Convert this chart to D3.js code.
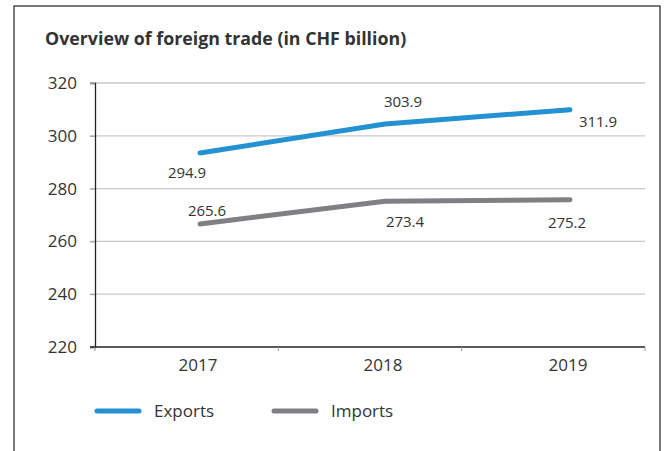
<!DOCTYPE html>
<html>
<head>
<meta charset="utf-8">
<script src="https://cdn.jsdelivr.net/npm/d3@7"></script>
<style>
  body { margin: 0; background: #fff; }
  text { font-family: "Open Sans", "Noto Sans", sans-serif; fill: #333; }
</style>
</head>
<body>
<script>
// data
const years = ["2017", "2018", "2019"];
const exportsVals = [293.5, 304.5, 309.9];
const importsVals = [266.6, 275.2, 275.8];
const exportsLabels = ["294.9", "303.9", "311.9"];
const importsLabels = ["265.6", "273.4", "275.2"];
const yTicks = [220, 240, 260, 280, 300, 320];

let svg = null;
let x, band, y = null;

setupSvg();
setupScales();
appendGrid();
appendAxes();
appendLines();
appendLegend();

function setupSvg() {
    svg = d3.select("body").append("svg")
        .attr("width", 665)
        .attr("height", 451);

    // outer frame
    svg.append("rect")
        .attr("x", 14).attr("y", 6)
        .attr("width", 646).attr("height", 520)
        .attr("fill", "none")
        .attr("stroke", "#333")
        .attr("stroke-width", 1.3);

    svg.append("text")
        .attr("x", 45).attr("y", 45)
        .attr("font-size", 17.8)
        .attr("font-weight", "bold")
        .attr("fill", "#222")
        .text("Overview of foreign trade (in CHF billion)");
}

function setupScales() {
    band = d3.scaleBand().domain(years).range([95, 645]);
    x = d3.scalePoint().domain(years).range([200, 570]);
    y = d3.scaleLinear().domain([220, 320]).range([347, 83]);
}

function appendGrid() {
    svg.append("g")
        .selectAll("line")
        .data(yTicks.slice(1))
        .enter().append("line")
        .attr("x1", 90).attr("x2", 645)
        .attr("y1", d => y(d)).attr("y2", d => y(d))
        .attr("stroke", "#c8c8c8")
        .attr("stroke-width", 1.3);
}

function appendAxes() {
    // y axis
    const ya = svg.append("g")
        .attr("transform", "translate(95,0)")
        .call(d3.axisLeft(y).tickValues(yTicks).tickSize(5).tickPadding(13));
    ya.select(".domain").attr("stroke", "#222").attr("stroke-width", 1.3);
    ya.selectAll(".tick line").attr("stroke", "#999");
    ya.selectAll("text").attr("font-size", 17).attr("fill", "#333")
        .attr("font-family", "Open Sans");

    // x axis: tick marks at band edges
    svg.append("line")
        .attr("x1", 90).attr("x2", 645)
        .attr("y1", 347).attr("y2", 347)
        .attr("stroke", "#222").attr("stroke-width", 1.3);
    const edges = years.map(d => band(d)).concat([band(years[2]) + band.bandwidth()]);
    svg.append("g").selectAll("line")
        .data(edges)
        .enter().append("line")
        .attr("x1", d => d).attr("x2", d => d)
        .attr("y1", 347).attr("y2", 351)
        .attr("stroke", "#999");

    svg.append("g").selectAll("text")
        .data(years)
        .enter().append("text")
        .attr("x", d => x(d) - 2)
        .attr("y", 371)
        .attr("text-anchor", "middle")
        .attr("font-size", 17)
        .text(d => d);
}

function appendLines() {
    const line = d3.line()
        .x((d, i) => x(years[i]))
        .y(d => y(d));

    svg.append("path")
        .datum(exportsVals)
        .attr("d", line)
        .attr("fill", "none")
        .attr("stroke", "#2391d2")
        .attr("stroke-width", 5)
        .attr("stroke-linecap", "round")
        .attr("stroke-linejoin", "round");

    svg.append("path")
        .datum(importsVals)
        .attr("d", line)
        .attr("fill", "none")
        .attr("stroke", "#808084")
        .attr("stroke-width", 5)
        .attr("stroke-linecap", "round")
        .attr("stroke-linejoin", "round");

    // label offsets follow the picture
    const expOff = [[-13, 25], [18, -17], [28, 17]];
    const impOff = [[7, -8], [20, 26], [-3, 28]];

    svg.append("g").selectAll("text")
        .data(exportsVals)
        .enter().append("text")
        .attr("x", (d, i) => x(years[i]) + expOff[i][0])
        .attr("y", (d, i) => y(d) + expOff[i][1])
        .attr("text-anchor", "middle")
        .attr("font-size", 15)
        .text((d, i) => exportsLabels[i]);

    svg.append("g").selectAll("text")
        .data(importsVals)
        .enter().append("text")
        .attr("x", (d, i) => x(years[i]) + impOff[i][0])
        .attr("y", (d, i) => y(d) + impOff[i][1])
        .attr("text-anchor", "middle")
        .attr("font-size", 15)
        .text((d, i) => importsLabels[i]);
}

function appendLegend() {
    const items = [
        {name: "Exports", color: "#2391d2", x: 97},
        {name: "Imports", color: "#808084", x: 274}
    ];
    const g = svg.append("g").selectAll("g")
        .data(items)
        .enter().append("g")
        .attr("transform", d => `translate(${d.x},411)`);
    g.append("line")
        .attr("x1", 0).attr("x2", 42)
        .attr("stroke", d => d.color)
        .attr("stroke-width", 5)
        .attr("stroke-linecap", "round");
    g.append("text")
        .attr("x", 57).attr("y", 6)
        .attr("font-size", 17)
        .text(d => d.name);
}
</script>
</body>
</html>
